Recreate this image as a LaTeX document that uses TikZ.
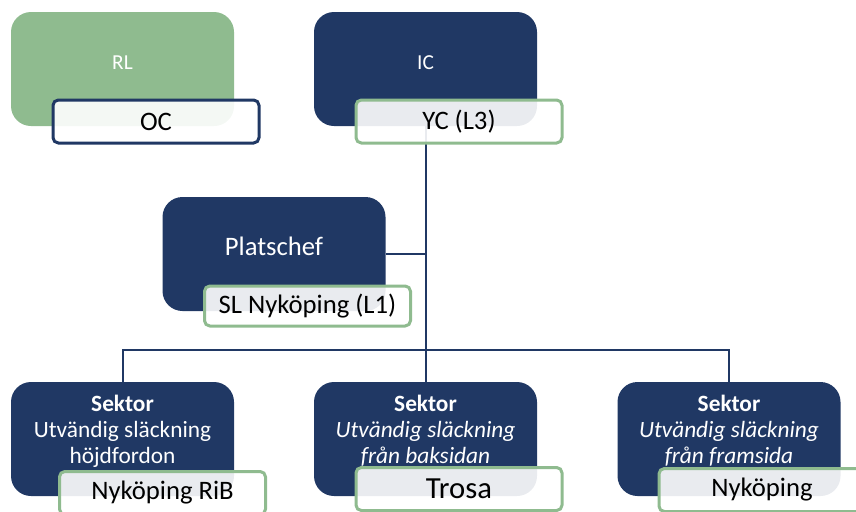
\documentclass[tikz,border=0pt]{standalone}
\usepackage{fontspec}
\setmainfont{Carlito}
\definecolor{navy}{RGB}{32,56,100}
\definecolor{sage}{RGB}{143,187,143}

\begin{document}
\begin{tikzpicture}[x=.75pt, y=-.75pt,
  box/.style={rounded corners=15pt, minimum width=167.25pt, minimum height=85.5pt, inner sep=0pt},
  title/.style={text=white, align=center, font=\fontsize{17.5}{19.5}\selectfont},
  tag/.style={draw, line width=2.25pt, rounded corners=4pt, fill=white, fill opacity=.9, text opacity=1,
    minimum width=154.5pt, minimum height=32.25pt, inner sep=0pt, font=\fontsize{20}{24}\selectfont},
  conn/.style={navy, line width=1.5pt}]
\clip (0,0) rectangle (856,511);

% top row
\node[box, fill=sage] (rl) at (122.5,69) {};
\node[title, font=\fontsize{16}{19}\selectfont] (rltext) at ([yshift=5pt]rl.center) {RL};
\node[box, fill=navy] (ic) at (425.5,69) {};
\node[title, font=\fontsize{16}{19}\selectfont] (ictext) at ([yshift=5pt]ic.center) {IC};

% platschef
\node[box, fill=navy] (plats) at (274,254) {};
\node[title, font=\fontsize{20}{24}\selectfont] (platstext) at ([yshift=6pt]plats.center) {Platschef};

% sektorer
\node[box, fill=navy] (sek1) at (122.5,439) {};
\node[title] (sek1text) at ([yshift=6pt]sek1.center) {\textbf{Sektor}\\Utvändig släckning\\höjdfordon};
\node[box, fill=navy] (sek2) at (425.5,439) {};
\node[title] (sek2text) at ([yshift=6pt]sek2.center) {\textbf{Sektor}\\\textit{Utvändig släckning}\\\textit{från baksidan}};
\node[box, fill=navy] (sek3) at (729,439) {};
\node[title] (sek3text) at ([yshift=6pt]sek3.center) {\textbf{Sektor}\\\textit{Utvändig släckning}\\\textit{från framsida}};

% lines
\coordinate (bus) at (425.5,350);
\draw[conn] (ic.south) -- (bus);
\draw[conn] (plats.east) -- (plats.east -| bus);
\draw[conn] (sek1.north) -- (sek1.north |- bus) -- (sek3.north |- bus) -- (sek3.north);
\draw[conn] (bus) -- (sek2.north);

% roles
\node[tag, draw=navy] (oc) at (156,121.5) {OC};
\node[tag, draw=sage] (yc) at (459,121.5) {YC (L3)};
\node[tag, draw=sage, minimum height=30pt] (sl) at (307.5,306) {SL Nyköping (L1)};
\node[tag, draw=sage] (rib) at (162.5,493) {Nyköping RiB};
\node[tag, draw=sage, font=\fontsize{23}{27}\selectfont] (trosa) at (459,489) {Trosa};
\node[tag, draw=sage] (nkpg) at (762,490) {Nyköping};
\end{tikzpicture}
\end{document}
